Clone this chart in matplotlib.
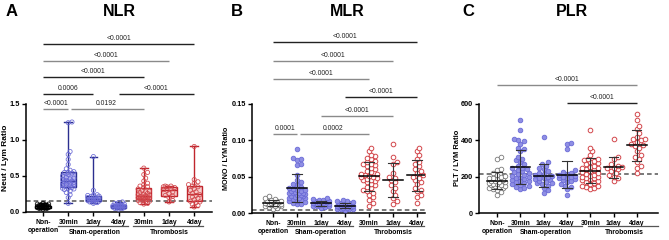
import numpy as np
import matplotlib
matplotlib.use('Agg')
import matplotlib.pyplot as plt
from matplotlib import transforms

plt.rcParams['font.family'] = ['Liberation Sans', 'DejaVu Sans']

W, H = 669, 240
fig = plt.figure(figsize=(6.69, 2.40), dpi=100)

# ---------------- data ----------------
categories = ["Non-\noperation", "30min", "1day", "4day", "30min", "1day", "4day"]

non_nlr = [0.04, 0.05, 0.05, 0.06, 0.06, 0.06, 0.07, 0.07, 0.07, 0.07, 0.07, 0.08, 0.08,
           0.08, 0.08, 0.09, 0.09, 0.09, 0.10, 0.10, 0.11, 0.11, 0.12, 0.06, 0.08]
sham30_nlr = [0.12, 0.20, 0.24, 0.27, 0.29, 0.31, 0.32, 0.33, 0.33, 0.34, 0.35, 0.36, 0.37,
              0.38, 0.39, 0.40, 0.40, 0.41, 0.42, 0.42, 0.43, 0.44, 0.45, 0.46, 0.47, 0.48,
              0.50, 0.52, 0.54, 0.55, 0.55, 0.56, 0.58, 0.60, 0.66, 0.73, 0.80, 0.84, 1.24, 1.25]
sham1d_nlr = [0.12, 0.13, 0.14, 0.14, 0.15, 0.15, 0.16, 0.16, 0.17, 0.17, 0.17, 0.18, 0.19,
              0.20, 0.21, 0.22, 0.22, 0.23, 0.23, 0.24, 0.30, 0.77]
sham4d_nlr = [0.04, 0.05, 0.05, 0.06, 0.06, 0.06, 0.07, 0.07, 0.07, 0.08, 0.08, 0.08, 0.08,
              0.09, 0.09, 0.09, 0.10, 0.10, 0.11, 0.12, 0.13, 0.14]
thr30_nlr = [0.11, 0.12, 0.13, 0.14, 0.15, 0.16, 0.16, 0.17, 0.17, 0.18, 0.18, 0.19, 0.19,
             0.20, 0.20, 0.21, 0.21, 0.22, 0.22, 0.23, 0.24, 0.25, 0.26, 0.27, 0.28, 0.29,
             0.30, 0.32, 0.34, 0.35, 0.36, 0.38, 0.40, 0.43, 0.47, 0.52, 0.55, 0.61]
thr1d_nlr = [0.14, 0.16, 0.20, 0.22, 0.23, 0.26, 0.28, 0.30, 0.31, 0.32, 0.34, 0.35, 0.35,
             0.36, 0.36]
thr4d_nlr = [0.07, 0.09, 0.11, 0.13, 0.14, 0.15, 0.17, 0.19, 0.21, 0.23, 0.24, 0.26, 0.28,
             0.30, 0.32, 0.35, 0.36, 0.38, 0.40, 0.42, 0.45, 0.91]

non_mlr = [0.006, 0.007, 0.008, 0.009, 0.010, 0.010, 0.011, 0.011, 0.012, 0.012, 0.012,
           0.013, 0.013, 0.013, 0.014, 0.014, 0.015, 0.015, 0.016, 0.016, 0.017, 0.018,
           0.019, 0.020, 0.023]
sham30_mlr = [0.012, 0.013, 0.014, 0.015, 0.016, 0.017, 0.018, 0.019, 0.020, 0.020, 0.021,
              0.022, 0.023, 0.024, 0.025, 0.025, 0.026, 0.027, 0.027, 0.028, 0.028, 0.029,
              0.030, 0.030, 0.031, 0.032, 0.033, 0.034, 0.036, 0.038, 0.040, 0.042, 0.046,
              0.052, 0.066, 0.068, 0.073, 0.075, 0.076, 0.088]
sham1d_mlr = [0.007, 0.008, 0.009, 0.010, 0.010, 0.011, 0.011, 0.012, 0.012, 0.012, 0.013,
              0.013, 0.013, 0.014, 0.014, 0.014, 0.015, 0.015, 0.016, 0.016, 0.017, 0.018,
              0.018, 0.019, 0.020]
sham4d_mlr = [0.004, 0.005, 0.005, 0.006, 0.006, 0.007, 0.007, 0.008, 0.008, 0.009, 0.009,
              0.010, 0.010, 0.010, 0.011, 0.011, 0.012, 0.012, 0.013, 0.014, 0.014, 0.015,
              0.016, 0.017, 0.018]
thr30_mlr = [0.010, 0.014, 0.018, 0.022, 0.025, 0.028, 0.030, 0.032, 0.034, 0.036, 0.038,
             0.040, 0.042, 0.044, 0.045, 0.046, 0.047, 0.048, 0.049, 0.050, 0.051, 0.052,
             0.053, 0.054, 0.056, 0.058, 0.060, 0.062, 0.064, 0.066, 0.068, 0.068, 0.070,
             0.072, 0.074, 0.076, 0.078, 0.080, 0.085, 0.090]
thr1d_mlr = [0.013, 0.017, 0.020, 0.025, 0.030, 0.035, 0.038, 0.042, 0.045, 0.048, 0.050,
             0.055, 0.068, 0.070, 0.077, 0.095]
thr4d_mlr = [0.014, 0.022, 0.025, 0.030, 0.032, 0.035, 0.040, 0.043, 0.045, 0.048, 0.050,
             0.052, 0.055, 0.058, 0.060, 0.064, 0.068, 0.070, 0.075, 0.080, 0.085, 0.090]

non_plr = [100, 115, 125, 130, 135, 140, 145, 148, 150, 152, 155, 158, 160, 165, 170, 172,
           175, 178, 180, 185, 190, 195, 200, 205, 210, 220, 235, 240, 300, 310]
sham30_plr = [130, 140, 145, 150, 155, 160, 165, 170, 175, 180, 185, 190, 195, 200, 205, 210,
              215, 220, 225, 230, 235, 240, 245, 250, 260, 270, 280, 290, 300, 310, 340, 355,
              360, 380, 395, 400, 405, 455, 510, 175]
sham1d_plr = [110, 125, 140, 150, 160, 165, 170, 175, 180, 185, 190, 195, 200, 205, 210, 215,
              220, 230, 240, 250, 260, 270, 280, 420, 165]
sham4d_plr = [100, 130, 145, 150, 160, 170, 175, 180, 185, 190, 195, 200, 200, 205, 210, 215,
              220, 225, 235, 355, 380, 385]
thr30_plr = [130, 140, 145, 150, 160, 165, 170, 175, 180, 185, 190, 195, 200, 205, 210, 215,
             220, 225, 230, 235, 240, 245, 250, 255, 260, 270, 275, 280, 285, 290, 295, 300,
             320, 340, 360, 455, 150, 200]
thr1d_plr = [175, 190, 200, 210, 220, 230, 240, 245, 250, 255, 260, 270, 300, 310, 405]
thr4d_plr = [220, 245, 260, 280, 300, 310, 320, 340, 360, 370, 380, 390, 400, 405, 410, 420,
             440, 460, 480, 510, 545, 375]

nlr_groups = [non_nlr, sham30_nlr, sham1d_nlr, sham4d_nlr, thr30_nlr, thr1d_nlr, thr4d_nlr]
mlr_groups = [non_mlr, sham30_mlr, sham1d_mlr, sham4d_mlr, thr30_mlr, thr1d_mlr, thr4d_mlr]
plr_groups = [non_plr, sham30_plr, sham1d_plr, sham4d_plr, thr30_plr, thr1d_plr, thr4d_plr]

nlr_ref, mlr_ref, plr_ref = 0.15, 0.004, 215

# comparisons: (group i, group j, p label)
nlr_pairs = [(0, 6, "<0.0001"), (0, 5, "<0.0001"), (0, 4, "<0.0001"), (0, 2, "0.0006"),
             (3, 6, "<0.0001"), (0, 1, "<0.0001"), (1, 4, "0.0192")]
mlr_pairs = [(0, 6, "<0.0001"), (0, 5, "<0.0001"), (0, 4, "<0.0001"), (3, 6, "<0.0001"),
             (2, 5, "<0.0001"), (0, 1, "0.0001"), (1, 4, "0.0002")]
plr_pairs = [(0, 6, "<0.0001"), (3, 6, "<0.0001")]

# ---------------- style ----------------
BLUE_D = '#2b2f8f'
BLUE_F = '#b4b4ee'
BLUE_M = '#6a6ad6'
BLUE_MF = '#8f8fe4'
RED_D = '#c0262d'
RED_F = '#f6cccc'
RED_M = '#d2464b'
DARK = '#222222'
LGREY = '#8a8a8a'

TOP_PX = 30
XT_FS = 4.85
YT_FS = 5.3


def make_ax(left, right, y0, yv_px, yv, x0, sp):
    pxu = (y0 - yv_px) / yv
    ax = fig.add_axes([left / W, (H - y0) / H, (right - left) / W, (y0 - TOP_PX) / H])
    ax.set_ylim(0, (y0 - TOP_PX) / pxu)
    ax.set_xlim((left - x0) / sp, (right - x0) / sp)
    ax.spines['top'].set_visible(False)
    ax.spines['right'].set_visible(False)
    ax.spines['left'].set_bounds(0, yv)
    for s in ('left', 'bottom'):
        ax.spines[s].set_linewidth(1.1)
    ax.patch.set_alpha(0)
    ax.set_xticks(range(7))
    ax.set_xticklabels(categories, fontsize=XT_FS, fontweight='bold', linespacing=1.3)
    ax.tick_params(axis='x', length=3, width=1, pad=2)
    ax.tick_params(axis='y', length=3, width=1, pad=1.5, labelsize=YT_FS)
    return ax, pxu, sp


def swarm(vals, xc, pxu, sp, d=4.4, tol=0.75, cap=8.0):
    vals = np.asarray(vals, float)
    order = np.argsort(vals)
    xs = np.zeros(len(vals))
    placed = []
    step = d * 0.45
    nmax = int(cap // step)
    cands = [0]
    for n in range(1, nmax + 1):
        cands += [n, -n]
    for i in order:
        ypx = vals[i] * pxu
        best, bestd = 0, -1
        chosen = None
        for c in cands:
            xpx = c * step
            if placed:
                md = min((xpx - px) ** 2 + (ypx - py) ** 2 for px, py in placed)
            else:
                md = 1e9
            if md >= (d * tol) ** 2:
                chosen = xpx
                break
            if md > bestd + 1e-9:
                best, bestd = xpx, md
        if chosen is None:
            chosen = best
        placed.append((chosen, ypx))
        xs[i] = xc + chosen / sp
    return xs


def brackets(ax, pxu, y0, pairs, levels_px, colors):
    ends = set()
    for (i, j, lab), lp, col in zip(pairs, levels_px, colors):
        y = (y0 - lp) / pxu
        xa = i + (0.12 if (i, lp) in ends else 0)
        ax.plot([xa, j], [y, y], color=col, lw=1.0, clip_on=False, solid_capstyle='butt')
        ax.annotate(lab, ((i + j) / 2, y), xytext=(0, 1.3), textcoords='offset points',
                    ha='center', va='bottom', fontsize=4.9, color=DARK, annotation_clip=False)
        ends.add((j, lp))


def group_labels(ax, spans, names):
    tr = transforms.blended_transform_factory(ax.transData, fig.transFigure)
    for (a, b), nm in zip(spans, names):
        ax.plot([a, b], [(H - 226) / H] * 2, color='#555555', lw=0.9, transform=tr, clip_on=False)
        ax.text((a + b) / 2 + 0.05, (H - 232.5) / H, nm, transform=tr, ha='center', va='center',
                fontsize=XT_FS, fontweight='bold')


def ref_line(ax, v):
    ax.axhline(v, color='#555555', lw=1.1, ls=(0, (3, 2)), zorder=1)


def bold_yticks(ax, ticks, labels):
    ax.set_yticks(ticks)
    ax.set_yticklabels(labels, fontweight='bold', fontsize=YT_FS)


# ---------------- Panel A ----------------
axA, pA, sA = make_ax(26, 212, 212, 104, 1.5, 43, 25.2)
bold_yticks(axA, [0, 0.5, 1.0, 1.5], ['0.0', '0.5', '1.0', '1.5'])
ref_line(axA, nlr_ref)
box_cols = [('black', 'white'), (BLUE_D, BLUE_F), (BLUE_D, BLUE_F), (BLUE_D, BLUE_F),
            (RED_D, RED_F), (RED_D, RED_F), (RED_D, RED_F)]
mk_cols = ['black', BLUE_M, BLUE_M, BLUE_M, RED_M, RED_M, RED_M]
for k, vals in enumerate(nlr_groups):
    ec, fc = box_cols[k]
    bp = axA.boxplot([vals], positions=[k], widths=0.6, whis=(0, 100), patch_artist=True,
                     showfliers=False, capwidths=0.3, manage_ticks=False,
                     boxprops=dict(facecolor=fc, edgecolor=ec, linewidth=1.0),
                     medianprops=dict(color=ec, linewidth=1.0),
                     whiskerprops=dict(color=ec, linewidth=1.0),
                     capprops=dict(color=ec, linewidth=1.0))
    for b in bp['boxes']:
        b.set_zorder(2)
    xs = swarm(vals, k, pA, sA, d=4.2, tol=0.82, cap=7.5)
    axA.scatter(xs, vals, s=9, facecolors='none', edgecolors=mk_cols[k], linewidths=0.55,
                zorder=3)
brackets(axA, pA, 212, nlr_pairs, [44, 61, 77, 94, 94, 109, 109],
         [DARK, LGREY, DARK, DARK, DARK, LGREY, LGREY])
group_labels(axA, [(0.6, 3.38), (3.58, 6.35)], ["Sham-operation", "Thrombosis"])


def scatter_panel(ax, groups, pxu, sp):
    for k, vals in enumerate(groups):
        xs = swarm(vals, k, pxu, sp, d=4.6, tol=0.82, cap=10.0)
        if k == 0:
            ax.scatter(xs, vals, s=11, facecolors='white', edgecolors='#7a7a7a',
                       linewidths=0.6, zorder=3)
        elif k <= 3:
            ax.scatter(xs, vals, s=11, facecolors=BLUE_MF, edgecolors=BLUE_M,
                       linewidths=0.6, zorder=3)
        else:
            ax.scatter(xs, vals, s=11, facecolors='white', edgecolors=RED_M,
                       linewidths=0.7, zorder=3)
        m = np.mean(vals)
        sd = np.std(vals, ddof=1)
        ax.plot([k - 0.42, k + 0.42], [m, m], color='black', lw=1.1, zorder=4)
        ax.plot([k, k], [m - sd, m + sd], color='#333333', lw=0.8, zorder=4)
        for yy in (m - sd, m + sd):
            ax.plot([k - 0.2, k + 0.2], [yy, yy], color='#333333', lw=0.8, zorder=4)


# ---------------- Panel B ----------------
axB, pB, sB = make_ax(252, 425, 213, 104, 0.15, 273, 24.0)
bold_yticks(axB, [0, 0.05, 0.10, 0.15], ['0.00', '0.05', '0.10', '0.15'])
ref_line(axB, mlr_ref)
scatter_panel(axB, mlr_groups, pB, sB)
brackets(axB, pB, 213, mlr_pairs, [42, 61, 79, 97, 116, 134, 134],
         [DARK, LGREY, LGREY, DARK, LGREY, LGREY, LGREY])
group_labels(axB, [(0.58, 3.33), (3.6, 6.3)], ["Sham-operation", "Throbomsis"])

# ---------------- Panel C ----------------
axC, pC, sC = make_ax(479, 658, 213, 104, 600, 497, 23.3)
bold_yticks(axC, [0, 200, 400, 600], ['0', '200', '400', '600'])
ref_line(axC, plr_ref)
scatter_panel(axC, plr_groups, pC, sC)
brackets(axC, pC, 213, plr_pairs, [85, 103], [LGREY, DARK])
group_labels(axC, [(0.47, 3.65), (3.9, 6.9)], ["Sham-operation", "Throbomsis"])

# ---------------- titles / labels ----------------
for x, lab in [(12, 'A'), (237, 'B'), (468, 'C')]:
    fig.text(x / W, (H - 12) / H, lab, ha='center', va='center', fontsize=12,
             fontweight='bold')
for x, lab in [(119, 'NLR'), (347, 'MLR'), (572, 'PLR')]:
    fig.text(x / W, (H - 12) / H, lab, ha='center', va='center', fontsize=11.5,
             fontweight='bold')
for x, y, lab, fs in [(6, 158, 'Neut / Lym Ratio', 6.0), (227, 158, 'MONO / LYM Ratio', 5.2),
                      (457, 158, 'PLT / LYM Ratio', 5.4)]:
    fig.text(x / W, (H - y) / H, lab, rotation=90, ha='center', va='center', fontsize=fs,
             fontweight='bold')

fig.savefig('out.png', dpi=100)
